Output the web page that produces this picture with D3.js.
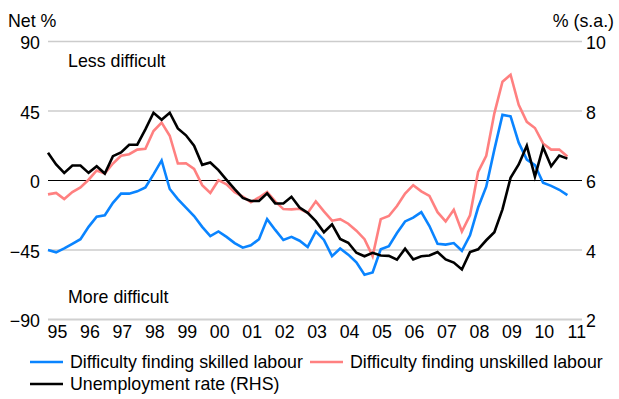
<!DOCTYPE html>
<html>
<head>
<meta charset="utf-8">
<script src="https://cdn.jsdelivr.net/npm/d3@7/dist/d3.min.js"></script>
<style>
  html, body { margin: 0; padding: 0; background: #fff; }
  svg { display: block; font-family: "Liberation Sans", Arial, sans-serif; }
</style>
</head>
<body>
<svg id="chart" width="619" height="399"></svg>
<script>
// Quarterly observations, March 1995 to March 2011
const yearLabels = ["95","96","97","98","99","00","01","02","03","04","05","06","07","08","09","10","11"];

// Net balance of firms reporting difficulty finding skilled labour (LHS, net %)
const skilled = [-45,-46.5,-44,-41,-38,-30,-23.5,-22.5,-14.5,-8.5,-8.5,-7,-4.5,4,13,-5.5,
  -12,-17.5,-23,-30,-36,-33,-36.5,-40.5,-43.5,-42,-38,-25,-32,-38.5,-36.5,-39,
  -43,-33,-38.5,-49,-44,-48,-53,-61,-59.5,-44.5,-42.5,-34,-26.5,-24,-20.5,-29.5,
  -41,-41.5,-40.5,-45.5,-35.5,-17.5,-4,20,42.5,41.5,24.5,13.5,10,-1.5,-3.5,-6,-9.5];

// Net balance of firms reporting difficulty finding unskilled labour (LHS, net %)
const unskilled = [-9,-8,-12,-7.5,-4.5,0.5,6.5,4.5,11,16,17,20,20.5,32,37.5,29,
  11,11.2,7.5,-3,-8,0.2,-2.5,-7.5,-10.5,-14,-11,-7.5,-13.5,-18.5,-18.7,-18.3,
  -21,-13.5,-20,-26,-25,-28,-32.5,-38,-49,-25,-23,-16.5,-8.5,-3,-7,-10,
  -20.5,-26.5,-19,-33,-22.5,5.5,16,43.5,64,68.5,49,38,34,24,20,20,15.5];

// Unemployment rate, seasonally adjusted (RHS, %)
const unemployment = [6.8,6.46,6.22,6.43,6.43,6.22,6.41,6.2,6.7,6.81,7.03,7.03,7.47,7.95,7.75,7.95,
  7.5,7.3,7.0,6.45,6.52,6.3,6.02,5.75,5.5,5.41,5.41,5.63,5.34,5.34,5.53,5.22,
  5.07,4.83,4.51,4.74,4.32,4.21,3.92,3.82,3.92,3.84,3.83,3.72,4.04,3.73,3.82,3.84,
  3.94,3.73,3.64,3.44,3.94,4.02,4.28,4.51,5.17,6.08,6.46,7.0,6.11,6.96,6.41,6.72,6.63];

const leftTicks = [-90, -45, 0, 45, 90];
const rightTicks = [2, 4, 6, 8, 10];

const seriesNames = ["Difficulty finding skilled labour", "Difficulty finding unskilled labour", "Unemployment rate (RHS)"];
const seriesColors = ["#0a84ff", "#ff8080", "#000000"];

const svg = d3.select("#chart");
const fontSize = 17.8;
const fontFamily = "Liberation Sans, Arial, sans-serif";

const plot = { left: 48, right: 582, top: 41.5, bottom: 319.5 };

// x is the quarter index; the axis runs a little past the last observation
const x = d3.scaleLinear().domain([0, 65.8]).range([plot.left, plot.right]);
const yL = d3.scaleLinear().domain([-90, 90]).range([plot.bottom, plot.top]);
const yR = d3.scaleLinear().domain([2, 10]).range([plot.bottom, plot.top]);

// Horizontal gridlines
svg.append("g").selectAll("line")
  .data(leftTicks.filter(t => t !== 0 && t !== -90))
  .join("line")
  .attr("x1", plot.left).attr("x2", plot.right)
  .attr("y1", d => yL(d)).attr("y2", d => yL(d))
  .attr("stroke", "#cccccc").attr("stroke-width", 1.3);

// Bottom axis line
svg.append("line")
  .attr("x1", plot.left).attr("x2", plot.right)
  .attr("y1", yL(-90)).attr("y2", yL(-90))
  .attr("stroke", "#d0d0d0").attr("stroke-width", 2);

// Zero line
svg.append("line")
  .attr("x1", plot.left).attr("x2", plot.right)
  .attr("y1", yL(0)).attr("y2", yL(0))
  .attr("stroke", "#000").attr("stroke-width", 1.2);

// Left axis labels
const leftAxis = d3.axisLeft(yL).tickValues(leftTicks).tickSize(0).tickPadding(8);
const gL = svg.append("g").attr("transform", `translate(${plot.left},0)`).call(leftAxis);
gL.select(".domain").remove();
gL.selectAll("text").attr("font-size", fontSize).attr("font-family", fontFamily)
  .attr("fill", "#000").attr("dy", "0.42em");

// Right axis labels
const rightAxis = d3.axisRight(yR).tickValues(rightTicks).tickSize(0).tickPadding(4);
const gR = svg.append("g").attr("transform", `translate(${plot.right},0)`).call(rightAxis);
gR.select(".domain").remove();
gR.selectAll("text").attr("font-size", fontSize).attr("font-family", fontFamily)
  .attr("fill", "#000").attr("dy", "0.42em");

// Year labels, one per four quarters
const xAxis = d3.axisBottom(x)
  .tickValues(yearLabels.map((_, i) => i * 4 + 1.1))
  .tickFormat((d, i) => yearLabels[i])
  .tickSize(0).tickPadding(6);
const gX = svg.append("g").attr("transform", `translate(0,${plot.bottom})`).call(xAxis);
gX.select(".domain").remove();
gX.selectAll("text").attr("font-size", fontSize).attr("font-family", fontFamily)
  .attr("fill", "#000");

// Axis titles and annotations
svg.append("text").attr("x", 8).attr("y", 27).attr("font-size", fontSize).text("Net %");
svg.append("text").attr("x", 614).attr("y", 27).attr("text-anchor", "end").attr("font-size", fontSize).text("% (s.a.)");
svg.append("text").attr("x", 68).attr("y", 66.5).attr("font-size", fontSize).text("Less difficult");
svg.append("text").attr("x", 68).attr("y", 302.5).attr("font-size", fontSize).text("More difficult");

// Series lines
const lineL = d3.line().x((d, i) => x(i)).y(d => yL(d));
const lineR = d3.line().x((d, i) => x(i)).y(d => yR(d));

svg.append("path").datum(unskilled).attr("d", lineL)
  .attr("fill", "none").attr("stroke", seriesColors[1]).attr("stroke-width", 2.6).attr("stroke-linejoin", "miter");
svg.append("path").datum(skilled).attr("d", lineL)
  .attr("fill", "none").attr("stroke", seriesColors[0]).attr("stroke-width", 2.6).attr("stroke-linejoin", "miter");
svg.append("path").datum(unemployment).attr("d", lineR)
  .attr("fill", "none").attr("stroke", seriesColors[2]).attr("stroke-width", 2.6).attr("stroke-linejoin", "miter");

// Legend
const legendItems = [
  { name: seriesNames[0], color: seriesColors[0], lx: 30, ly: 362 },
  { name: seriesNames[1], color: seriesColors[1], lx: 310, ly: 362 },
  { name: seriesNames[2], color: seriesColors[2], lx: 30, ly: 384 }
];
const lg = svg.append("g").selectAll("g").data(legendItems).join("g")
  .attr("transform", d => `translate(${d.lx},${d.ly})`);
lg.append("line").attr("x1", 0).attr("x2", 33).attr("y1", 0).attr("y2", 0)
  .attr("stroke", d => d.color).attr("stroke-width", 2.6);
lg.append("text").attr("x", 40).attr("y", 0).attr("dy", "0.36em")
  .attr("font-size", fontSize).text(d => d.name);
</script>
</body>
</html>
